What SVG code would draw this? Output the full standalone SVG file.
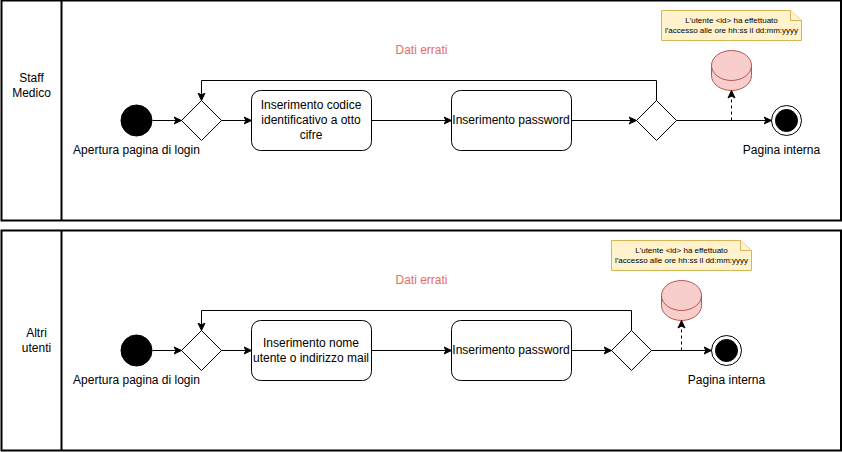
<svg xmlns="http://www.w3.org/2000/svg" width="842" height="452" viewBox="0 0 842 452">
<defs>
<marker id="arrow" markerUnits="userSpaceOnUse" markerWidth="12" markerHeight="12" refX="8" refY="6" orient="auto"><path d="M0.5 2.500L8 6L0.5 9.500L2.500 6Z" fill="#000" stroke="#000"/></marker>
<g id="db"><path d="M0 15A20 15 0 0 1 40 15V25A20 15 0 0 1 0 25Z" fill="#f8cecc" stroke="#b85450"/><path d="M0 15A20 15 0 0 0 40 15" fill="none" stroke="#b85450"/></g>
</defs>
<style>
text{font-family:"Liberation Sans",Arial,sans-serif;font-size:12px;fill:#000;text-anchor:middle}
.frame{fill:#fff;stroke:#000;stroke-width:2}
.line{fill:none;stroke:#000;stroke-width:1;marker-end:url(#arrow)}
.dash{stroke-dasharray:3 3}
.box{fill:#fff;stroke:#000}
.note{fill:#fff2cc;stroke:#d6b656}
.small{font-size:8px}
.err{fill:#ea6b66}
</style>
<g id="lane1"><rect class="frame" x="1.500" y="0.500" width="839.500" height="220"/><path class="frame" d="M61.500 0.500V220.500"/><text x="31.500" y="82">Staff</text><text x="31.500" y="97">Medico</text></g>
<g id="lane2"><rect class="frame" x="1.500" y="230.500" width="839.500" height="220"/><path class="frame" d="M61.500 230.500V450.500"/><text x="36.500" y="337">Altri</text><text x="36.500" y="352">utenti</text></g>
<g id="start1"><circle cx="136.500" cy="120.500" r="15.500" fill="#000" stroke="#000"/><text x="136.500" y="154">Apertura pagina di login</text></g>
<g id="decision1a"><path class="box" d="M201.500 100.500L221.500 120.500L201.500 140.500L181.500 120.500Z"/></g>
<g id="task1a"><rect class="box" x="251.500" y="90.500" width="120" height="60" rx="9"/><text x="311" y="109">Inserimento codice</text><text x="311" y="124">identificativo a otto</text><text x="311" y="139">cifre</text></g>
<g id="task1b"><rect class="box" x="451.500" y="90.500" width="120" height="60" rx="9"/><text x="511" y="124">Inserimento password</text></g>
<g id="decision1b"><path class="box" d="M656.500 100.500L676.500 120.500L656.500 140.500L636.500 120.500Z"/></g>
<g id="label1"><text class="err" x="421.500" y="54">Dati errati</text></g>
<g id="db1"><use href="#db" x="711.500" y="50.500"/></g>
<g id="note1"><path class="note" d="M661.500 10.500H790.500L801.500 20.500V40.500H661.500Z"/><path class="note" d="M790.500 10.500V20.500H801.500"/><text class="small" x="731.500" y="23">L'utente &lt;id&gt; ha effettuato</text><text class="small" x="731.500" y="33">l'accesso alle ore hh:ss il dd:mm:yyyy</text></g>
<g id="end1"><circle cx="786.500" cy="120.500" r="15" fill="#fff" stroke="#000"/><circle cx="786.500" cy="120.500" r="11" fill="#000" stroke="#000"/><text x="781.500" y="154">Pagina interna</text></g>
<g id="start2"><circle cx="136.500" cy="350.500" r="15.500" fill="#000" stroke="#000"/><text x="136.500" y="384">Apertura pagina di login</text></g>
<g id="decision2a"><path class="box" d="M201.500 330.500L221.500 350.500L201.500 370.500L181.500 350.500Z"/></g>
<g id="task2a"><rect class="box" x="251.500" y="320.500" width="120" height="60" rx="9"/><text x="311" y="347">Inserimento nome</text><text x="311" y="362">utente o indirizzo mail</text></g>
<g id="task2b"><rect class="box" x="451.500" y="320.500" width="120" height="60" rx="9"/><text x="511" y="354">Inserimento password</text></g>
<g id="decision2b"><path class="box" d="M631.500 330.500L651.500 350.500L631.500 370.500L611.500 350.500Z"/></g>
<g id="label2"><text class="err" x="421.500" y="284">Dati errati</text></g>
<g id="db2"><use href="#db" x="661.500" y="280.500"/></g>
<g id="note2"><path class="note" d="M611.500 240.500H740.500L751.500 250.500V270.500H611.500Z"/><path class="note" d="M740.500 240.500V250.500H751.500"/><text class="small" x="681.500" y="253">L'utente &lt;id&gt; ha effettuato</text><text class="small" x="681.500" y="263">l'accesso alle ore hh:ss il dd:mm:yyyy</text></g>
<g id="end2"><circle cx="726.500" cy="350.500" r="15" fill="#fff" stroke="#000"/><circle cx="726.500" cy="350.500" r="11" fill="#000" stroke="#000"/><text x="726.500" y="384">Pagina interna</text></g>
<g id="connectors">
<path class="line" d="M152.500 120.500H181.500"/><path class="line" d="M221.500 120.500H251.500"/><path class="line" d="M371.500 120.500H451.500"/><path class="line" d="M571.500 120.500H636.500"/><path class="line" d="M676.500 120.500H771.500"/><path class="line" d="M656.500 100.500V80.500H201.500V100.500"/><path class="line dash" d="M731.500 120.500V90.500"/>
<path class="line" d="M152.500 350.500H181.500"/><path class="line" d="M221.500 350.500H251.500"/><path class="line" d="M371.500 350.500H451.500"/><path class="line" d="M571.500 350.500H611.500"/><path class="line" d="M651.500 350.500H711.500"/><path class="line" d="M631.500 330.500V310.500H201.500V330.500"/><path class="line dash" d="M681.500 350.500V320.500"/>
</g>
</svg>
